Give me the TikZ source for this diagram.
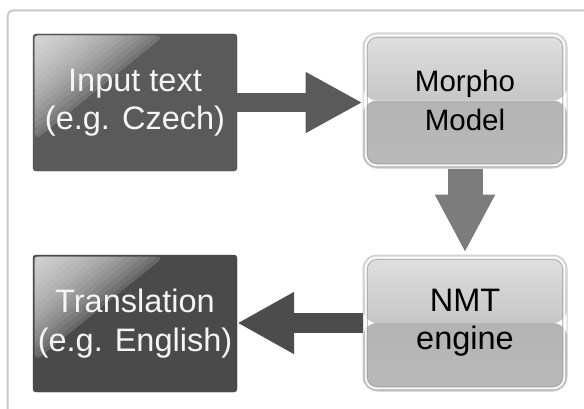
\documentclass[tikz,border=0pt]{standalone}
\usepackage{fontspec}
\setmainfont{Liberation Sans}
\usetikzlibrary{arrows.meta}
\definecolor{darkA}{HTML}{5A5A5A}
\definecolor{darkB}{HTML}{4A4A4A}
\definecolor{arrA}{HTML}{5A5A5A}
\definecolor{arrB}{HTML}{7C7C7C}
\definecolor{arrC}{HTML}{4C4C4C}
\definecolor{frameGray}{HTML}{C8C8C8}
\definecolor{hiTop}{HTML}{E0E0E0}
\definecolor{hiMid}{HTML}{C6C6C6}
\definecolor{loTop}{HTML}{ADADAD}
\definecolor{loBot}{HTML}{BABABA}
\definecolor{lightEdge}{HTML}{CFCFCF}
\definecolor{innerLine}{HTML}{9E9E9E}
\newcommand\glosspic{%
  \coordinate (glossC) at ([shift={(1.5pt,-1.5pt)}]path picture bounding box.north west);
  \fill[white, opacity=0.16, rounded corners=8pt] (glossC) -- ++(130pt,0pt) -- ++(-130pt,-105pt) -- cycle;
  \foreach \s in {0.95,0.89,...,0.05}{
    \fill[white, opacity=0.08] (glossC) -- ++(130pt*\s,0pt) -- ++(-130pt*\s,-105pt*\s) -- cycle;
  }}
\tikzset{
  darkbox/.style={minimum width=204pt, minimum height=137pt, inner sep=0pt,
    rounded corners=3pt, draw=#1!75!black, fill=#1, text=white!96!black,
    font=\fontsize{32.5}{38.5}\selectfont, align=center, path picture={\glosspic}},
  lightbox/.style={minimum width=204pt, minimum height=#1, inner sep=0pt,
    rounded corners=14pt, draw=lightEdge, line width=1pt, text=black, align=center,
    path picture={
      \shade[top color=loTop, bottom color=loBot] (path picture bounding box.south west) rectangle (path picture bounding box.east);
      \shade[top color=hiTop, bottom color=hiMid] (path picture bounding box.west) rectangle (path picture bounding box.north east);}},
  blockarrow/.style={line width=#1}
}
\begin{document}
\begin{tikzpicture}[x=1pt,y=1pt]
\useasboundingbox (0,0) rectangle (584,408);
\fill[white] (0,0) rectangle (584,408);
\draw[frameGray, line width=2pt, rounded corners=6pt] (7.5,-10) -- (7.5,397.5) -- (600,397.5);

\node[darkbox=darkA] (in) at (135,305.5) {Input text\\(e.g. Czech)};
\node[lightbox=135pt, font=\fontsize{29.5}{39}\selectfont] (morpho) at (465,307.5) {Morpho\\Model};
\node[lightbox=136pt, font=\fontsize{32.5}{38}\selectfont] (nmt) at (465,85) {NMT\\engine};
\node[darkbox=darkB] (tr) at (135,84.5) {Translation\\(e.g. English)};

\foreach \n in {morpho,nmt}{
  \draw[white!96!gray, line width=1.8pt, rounded corners=11pt]
    ([shift={(3.2pt,3.2pt)}]\n.south west) rectangle ([shift={(-3.2pt,-3.2pt)}]\n.north east);
  \draw[innerLine, line width=0.6pt, rounded corners=10pt]
    ([shift={(4.8pt,4.8pt)}]\n.south west) rectangle ([shift={(-4.8pt,-4.8pt)}]\n.north east);
}

\draw[arrA, blockarrow=19pt, -{Triangle[length=57pt,width=57pt]}]
  (in.east) -- (in.east -| morpho.west);
\draw[arrB, blockarrow=35pt, -{Triangle[length=58pt,width=56pt]}, shorten >=2pt]
  (morpho.south) -- (nmt.north);
\draw[arrC, blockarrow=20pt, -{Triangle[length=57pt,width=58pt]}]
  (nmt.west) -- (nmt.west -| tr.east);
\end{tikzpicture}
\end{document}
